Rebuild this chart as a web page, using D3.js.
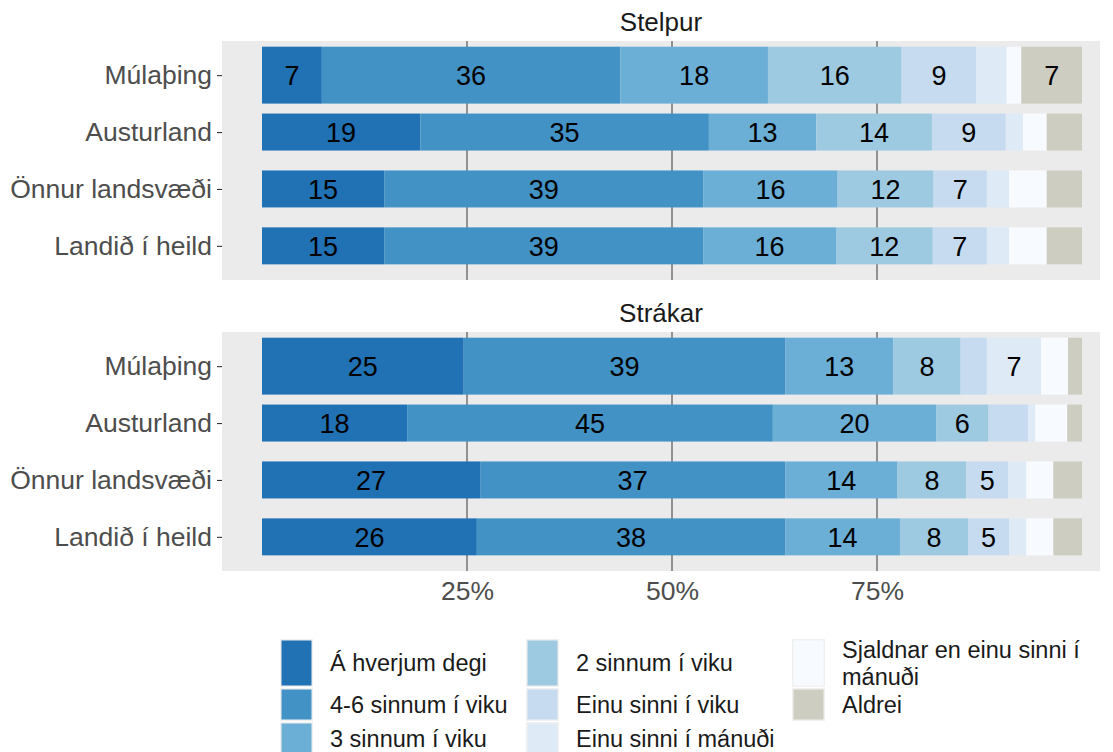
<!DOCTYPE html>
<html>
<head>
<meta charset="utf-8">
<script src="https://cdn.jsdelivr.net/npm/d3@7"></script>
<style>
body { margin: 0; background: #fff; }
text { font-family: "Liberation Sans", Arial, sans-serif; }
</style>
</head>
<body>
<svg id="chart" width="1113" height="752"></svg>
<script>
// data, percentages per region, one array per answer category order
var regions = ["Múlaþing", "Austurland", "Önnur landsvæði", "Landið í heild"];
var categories = ["Á hverjum degi", "4-6 sinnum í viku", "3 sinnum í viku", "2 sinnum í viku",
	"Einu sinni í viku", "Einu sinni í mánuði", "Sjaldnar en einu sinni í mánuði", "Aldrei"];
var colors = ["#2171b5", "#4292c6", "#6baed6", "#9ecae1", "#c6dbef", "#deebf7", "#f7fbff", "#cdcdc2"];
var groups = ["Stelpur", "Strákar"];

var stelpur = [
	[7.3, 36.4, 18.0, 16.3, 9.1, 3.7, 1.8, 7.4],
	[19.3, 35.2, 13.1, 14.1, 9.0, 2.1, 2.9, 4.3],
	[14.9, 38.9, 16.4, 11.7, 6.5, 2.7, 4.6, 4.3],
	[14.9, 38.9, 16.2, 11.8, 6.6, 2.7, 4.6, 4.3]
];
var strakar = [
	[24.6, 39.2, 13.2, 8.2, 3.2, 6.6, 3.3, 1.7],
	[17.7, 44.6, 19.9, 6.4, 4.8, 0.9, 3.9, 1.8],
	[26.6, 37.2, 13.7, 8.4, 5.1, 2.2, 3.3, 3.5],
	[26.2, 37.6, 14.0, 8.3, 5.0, 2.1, 3.3, 3.5]
];
var xTicks = [25, 50, 75];

var svg = d3.select("#chart");
var panelLeft = 222, panelRight = 1100, panelH = 239;
var panelTops = [41, 332];

var x = d3.scaleLinear().domain([0, 100]).range([262, 1082]);

var stack = d3.stack().keys(d3.range(categories.length));

[stelpur, strakar].forEach(function(values, gi)
{
	var top = panelTops[gi];
	var y = d3.scalePoint().domain(regions).range([top, top + panelH]).padding(0.6);
	var step = y.step();

	var g = svg.append("g");

	g.append("rect")
	.attr("x", panelLeft).attr("y", top)
	.attr("width", panelRight - panelLeft).attr("height", panelH)
	.attr("fill", "#ebebeb");

	g.selectAll(".grid")
	.data(xTicks)
	.enter().append("line")
	.attr("x1", function(d) { return x(d); })
	.attr("x2", function(d) { return x(d); })
	.attr("y1", top).attr("y2", top + panelH)
	.attr("stroke", "#474747").attr("stroke-width", 1.1);

	// strip title
	svg.append("text")
	.attr("x", (panelLeft + panelRight) / 2)
	.attr("y", top - 19)
	.attr("dy", "0.35em")
	.attr("text-anchor", "middle")
	.attr("font-size", "26px")
	.attr("fill", "#1a1a1a")
	.text(groups[gi]);

	var rows = values.map(function(v, i)
	{
		var r = {region: regions[i]};
		v.forEach(function(val, k) { r[k] = val; });
		return r;
	});
	var series = stack(rows);

	// in the reference the Múlaþing bar fills the whole band
	function barH(region) { return region === "Múlaþing" ? step : step * 0.65; }

	var layer = g.selectAll(".layer")
	.data(series)
	.enter().append("g")
	.attr("fill", function(d) { return colors[d.key]; });

	layer.selectAll("rect")
	.data(function(d) { return d; })
	.enter().append("rect")
	.attr("x", function(d) { return x(d[0]); })
	.attr("width", function(d) { return x(d[1]) - x(d[0]); })
	.attr("y", function(d) { return y(d.data.region) - barH(d.data.region) / 2; })
	.attr("height", function(d) { return barH(d.data.region); });

	layer.selectAll("text")
	.data(function(d) { return d.filter(function(e) { return e[1] - e[0] >= 5; }); })
	.enter().append("text")
	.attr("x", function(d) { return (x(d[0]) + x(d[1])) / 2; })
	.attr("y", function(d) { return y(d.data.region); })
	.attr("dy", "0.36em")
	.attr("text-anchor", "middle")
	.attr("font-size", "27px")
	.attr("fill", "#000")
	.text(function(d) { return Math.round(d[1] - d[0]); });

	var yAxis = svg.append("g")
	.attr("transform", "translate(" + panelLeft + ",0)")
	.call(d3.axisLeft(y).tickSize(5).tickPadding(5));
	yAxis.select(".domain").remove();
	yAxis.selectAll("line").attr("stroke", "#333").attr("stroke-width", 1.1);
	yAxis.selectAll("text")
	.attr("font-size", "26.5px")
	.attr("fill", "#4d4d4d")
	.style("font-family", "'Liberation Sans', Arial, sans-serif");
});

var xAxis = svg.append("g")
.attr("transform", "translate(0," + (panelTops[1] + panelH) + ")")
.call(d3.axisBottom(x).tickValues(xTicks).tickSize(0).tickPadding(10)
	.tickFormat(function(d) { return d + "%"; }));
xAxis.select(".domain").remove();
xAxis.selectAll("text")
.attr("font-size", "26.5px")
.attr("fill", "#4d4d4d")
.attr("dy", "0.71em")
.style("font-family", "'Liberation Sans', Arial, sans-serif");

// legend, 3 columns filled top to bottom
var legCols = [280, 526, 792];
var rowTops = [639, 688, 722];
var rowHs = [48, 33, 33];
var legend = svg.append("g");

categories.forEach(function(c, i)
{
	var col = Math.floor(i / 3), row = i % 3;
	var kx = legCols[col], ky = rowTops[row], kh = rowHs[row];
	legend.append("rect")
	.attr("x", kx).attr("y", ky).attr("width", 33).attr("height", kh)
	.attr("fill", "#f0f0f0");
	legend.append("rect")
	.attr("x", kx + 1.5).attr("y", ky + 1.5).attr("width", 30).attr("height", kh - 3)
	.attr("fill", colors[i]);

	var lines = c === "Sjaldnar en einu sinni í mánuði" ? ["Sjaldnar en einu sinni í", "mánuði"] : [c];
	var t = legend.append("text")
	.attr("x", kx + 50)
	.attr("font-size", "23.5px")
	.attr("fill", "#1a1a1a");
	lines.forEach(function(l, li)
	{
		t.append("tspan")
		.attr("x", kx + 50)
		.attr("y", ky + kh / 2 + (li - (lines.length - 1) / 2) * 27)
		.attr("dy", "0.35em")
		.text(l);
	});
});
</script>
</body>
</html>
